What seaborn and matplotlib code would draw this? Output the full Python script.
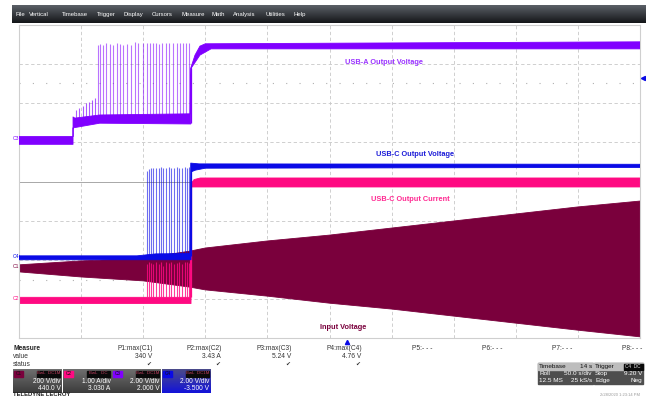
import numpy as np
import pandas as pd
import matplotlib
matplotlib.use("Agg")
import matplotlib.pyplot as plt
from matplotlib.patches import Rectangle
import seaborn as sns

# time in seconds (Roll, 50 s/div, 10 div); levels in screen divisions (8 div)

# C1 - Input Voltage (envelope of the AC waveform)
c1_t = [0, 50, 100, 137.7, 150, 200, 250, 300, 350, 400, 450, 500]
c1_top = [-2.13, -2.03, -1.96, -1.78, -1.70, -1.52, -1.37, -1.19, -1.01, -0.83, -0.65, -0.50]
c1_bot = [-2.31, -2.44, -2.54, -2.70, -2.77, -2.93, -3.11, -3.26, -3.44, -3.62, -3.80, -3.97]

# C2 - USB-C Output Current
c2_top_t = [0, 137.7, 138.5, 141, 146, 500]
c2_top_v = [-2.96, -2.96, -0.05, 0.05, 0.09, 0.09]
c2_bot_t = [0, 138.5, 138.9, 500]
c2_bot_v = [-3.12, -3.12, -0.14, -0.14]

# C3 - USB-A Output Voltage
c3_top_t = [0, 43.5, 43.5, 45, 65, 137.7, 138.3, 141.7, 145.7, 150, 500]
c3_top_v = [1.15, 1.15, 1.65, 1.62, 1.70, 1.73, 2.90, 3.23, 3.46, 3.52, 3.57]
c3_bot_t = [0, 43.5, 43.5, 65, 138.3, 138.7, 145.7, 154.6, 500]
c3_bot_v = [0.95, 0.95, 1.37, 1.49, 1.47, 2.90, 3.23, 3.39, 3.39]
c3_short_t = [45.9, 48.3, 51.5, 53.9, 56.4, 58.8, 61.2]
c3_short_top = [1.83, 1.88, 1.93, 2.01, 2.03, 2.08, 2.13]
c3_spike_t = [63.6, 65.2, 67.6, 70.0, 73.3, 75.7, 78.9, 81.3, 83.7, 86.9,
              90.2, 93.4, 95.8, 99.8, 103.1, 105.5, 107.9, 110.4, 112.8, 115.2,
              118.4, 120.8, 124.0, 127.2, 129.6, 132.1, 134.5, 136.9]
c3_spike_top = [3.49, 3.52, 3.50, 3.54, 3.52, 3.50, 3.53, 3.51, 3.49, 3.52,
                3.50, 3.56, 3.54, 3.55, 3.53, 3.55, 3.54, 3.55, 3.52, 3.54,
                3.55, 3.53, 3.54, 3.55, 3.53, 3.54, 3.55, 3.54]

# C4 - USB-C Output Voltage
c4_top_t = [0, 95, 110, 137.7, 138.3, 145, 500]
c4_top_v = [-1.90, -1.90, -1.85, -1.84, 0.47, 0.45, 0.44]
c4_bot_t = [0, 138.5, 138.9, 142, 150, 500]
c4_bot_v = [-2.00, -2.00, 0.25, 0.29, 0.34, 0.36]
c4_spike_t = [103.3, 104.9, 106.5, 108.1, 110.3, 112.5, 114.6, 116.2, 118.4,
              120.5, 122.6, 124.8, 126.9, 129.1, 131.2, 133.4, 135.5, 137.1]
c4_spike_top = [0.27, 0.32, 0.34, 0.35, 0.34, 0.35, 0.36, 0.35, 0.34,
                0.36, 0.35, 0.35, 0.36, 0.34, 0.35, 0.36, 0.35, 0.36]
c2_spike_top = [-2.10, -2.06, -2.08, -2.12, -2.06, -2.10, -2.07, -2.15, -2.06,
                -2.09, -2.06, -2.12, -2.08, -2.06, -2.10, -2.07, -2.06, -2.08]

menu_items = ["File", "Vertical", "Timebase", "Trigger", "Display", "Cursors",
              "Measure", "Math", "Analysis", "Utilities", "Help"]
meas_names = ["P1:max(C1)", "P2:max(C2)", "P3:max(C3)", "P4:max(C4)",
              "P5:- - -", "P6:- - -", "P7:- - -", "P8:- - -"]
meas_values = ["340 V", "3.43 A", "5.24 V", "4.76 V"]
ch_names = ["C1", "C2", "C3", "C4"]
ch_scale = ["200 V/div", "1.00 A/div", "2.00 V/div", "2.00 V/div"]
ch_offset = ["440.0 V", "3.030 A", "2.000 V", "-3.500 V"]

C1 = "#7a003c"
C2 = "#ff0a82"
C3 = "#8000ff"
C4 = "#0a0ae6"

sns.set_theme(style="white")
plt.rcParams["font.family"] = ["Liberation Sans", "DejaVu Sans"]

fig = plt.figure(figsize=(6.46, 3.98), dpi=100)
fig.patch.set_facecolor("white")
ax = fig.add_axes([19 / 646, 60 / 398, 621 / 646, 313 / 398])
ax.set_xlim(0, 500)
ax.set_ylim(-4, 4)
ax.set_xticks([])
ax.set_yticks([])
for s in ax.spines.values():
    s.set_color("#cfcfcf")
    s.set_linewidth(0.8)

# graticule
for gx in range(50, 500, 50):
    ax.axvline(gx, color="#c8c8c8", lw=0.6, ls=(0, (4, 3)), zorder=0)
for gy in [-3, -2, -1, 1, 2, 3]:
    ax.axhline(gy, color="#c8c8c8", lw=0.6, ls=(0, (4, 3)), zorder=0)
ax.axhline(0, color="#9a9a9a", lw=0.6, zorder=0)
for gy in [2.52, -2.52]:
    ax.axhline(gy, color="#b0b0b0", lw=0.8, ls=(0, (1, 11)), zorder=0)


def band(top_t, top_v, bot_t, bot_v, color, z):
    xs = list(top_t) + list(bot_t)[::-1]
    ys = list(top_v) + list(bot_v)[::-1]
    ax.fill(xs, ys, color=color, lw=0, zorder=z)
    edges = pd.DataFrame({"t": xs + [xs[0]], "v": ys + [ys[0]]})
    sns.lineplot(data=edges, x="t", y="v", ax=ax, color=color, lw=0.6,
                 sort=False, estimator=None, zorder=z)


# C1 input voltage
band(c1_t, c1_top, c1_t, c1_bot, C1, 1)

# C2 current
band(c2_top_t, c2_top_v, c2_bot_t, c2_bot_v, C2, 2)
ax.vlines(c4_spike_t, -2.96, c2_spike_top, color=C2, lw=0.8, alpha=0.8, zorder=2)
ax.vlines([138.4], -2.96, 0.0, color=C2, lw=0.9, zorder=2)

# C4 USB-C voltage
band(c4_top_t, c4_top_v, c4_bot_t, c4_bot_v, C4, 3)
ax.vlines(c4_spike_t, -1.9, c4_spike_top, color=C4, lw=0.8, alpha=0.6, zorder=3)
ax.vlines([138.3], -1.9, 0.45, color=C4, lw=0.9, zorder=3)

# C3 USB-A voltage
band(c3_top_t, c3_top_v, c3_bot_t, c3_bot_v, C3, 4)
ax.vlines(c3_short_t, 1.6, c3_short_top, color=C3, lw=0.8, alpha=0.65, zorder=4)
ax.vlines(c3_spike_t, 1.6, c3_spike_top, color=C3, lw=0.8, alpha=0.55, zorder=4)
ax.vlines([138.3], 1.5, 2.9, color=C3, lw=0.9, zorder=4)

lab = dict(fontsize=5.3, fontweight="bold", ha="center", va="center", zorder=6)
ax.text(293.9, 3.05, "USB-A Output Voltage", color="#9a33ff", **lab)
ax.text(318.9, 0.70, "USB-C Output Voltage", color="#1c1cd8", **lab)
ax.text(314.8, -0.45, "USB-C Output Current", color="#ff2a92", **lab)
ax.text(260.9, -3.72, "Input Voltage", color=C1, **lab)
ax.set_xlabel("")
ax.set_ylabel("")

# ---- instrument chrome, in pixel coordinates ----
ov = fig.add_axes([0, 0, 1, 1], zorder=10)
ov.set_xlim(0, 646)
ov.set_ylim(398, 0)
ov.axis("off")
ov.patch.set_alpha(0)

grad = np.linspace(0, 1, 20).reshape(-1, 1)
ov.imshow(grad, extent=[12, 646, 23, 5], cmap=matplotlib.colors.LinearSegmentedColormap.from_list(
    "bar", ["#5a5f66", "#15171a"]), aspect="auto", zorder=1)
menu_x = [15, 29, 62, 97, 123, 152, 181, 212, 233, 266, 293]
for mx, name in zip(menu_x, menu_items):
    ov.text(mx, 14.5, name, color="white", fontsize=4.3, va="center", ha="left", zorder=2)

# trace labels on left edge and trigger marker
small = dict(fontsize=3.6, va="center", ha="right", zorder=3)
ov.text(19, 138, "C3", color=C3, **small)
ov.text(19, 257, "C4", color=C4, **small)
ov.text(19, 266, "C1", color=C1, **small)
ov.text(19, 299, "C2", color=C2, **small)
ov.plot([643], [78], marker="<", color=C4, ms=3, zorder=3)

# measure table
ov.text(13, 349, "Measure", fontsize=4.8, fontweight="bold", color="#222", va="center")
ov.text(13, 357, "value", fontsize=4.8, color="#333", va="center")
ov.text(13, 364.5, "status", fontsize=4.8, color="#333", va="center")
meas_right = [153, 222, 292, 362, 433, 502, 572, 642]
for i, (xr, name) in enumerate(zip(meas_right, meas_names)):
    ov.text(xr, 349, name, fontsize=4.8, color="#333", ha="right", va="center")
    if i < 4:
        ov.text(xr - 1, 357, meas_values[i], fontsize=4.8, color="#333", ha="right", va="center")
        ov.text(xr - 4, 364.5, "\u2714", fontsize=4.2, color="#333", ha="center", va="center",
                family=["DejaVu Sans"])
ov.plot([347], [342], marker="^", color=C4, ms=3, zorder=3)

# channel descriptor boxes
box_x = [13, 63, 112, 162]
ch_colors = [C1, C2, C3, C4]
box_cmap = matplotlib.colors.LinearSegmentedColormap.from_list("box", ["#6e6e6e", "#3c3c3c"])
sel_cmap = matplotlib.colors.LinearSegmentedColormap.from_list("sel", ["#4a4a8a", "#1414d8"])
for i, bx in enumerate(box_x):
    cmap = sel_cmap if i == 3 else box_cmap
    ov.imshow(grad, extent=[bx, bx + 48.5, 393, 369], cmap=cmap, aspect="auto", zorder=1)
    ov.add_patch(Rectangle((bx + 1, 370.5), 9, 6, color=ch_colors[i], zorder=2))
    ov.text(bx + 5.5, 373.5, ch_names[i], fontsize=3.4, color="#111", ha="center", va="center", zorder=3)
    ov.add_patch(Rectangle((bx + 24, 370.5), 23, 6, color="#0a0a0a", zorder=2))
    ov.text(bx + 35.5, 373.5, "BwL  DC1M" if i != 1 else "BwL   DC", fontsize=3.2,
            color="#c04060", ha="center", va="center", zorder=3)
    ov.text(bx + 47.5, 381.5, ch_scale[i], fontsize=4.8, color="white", ha="right", va="center", zorder=3)
    ov.text(bx + 47.5, 389, ch_offset[i], fontsize=4.8, color="white", ha="right", va="center", zorder=3)

# timebase and trigger boxes
ov.add_patch(Rectangle((538, 363), 55, 21, color="#4e4e4e", zorder=1))
ov.add_patch(Rectangle((538, 363), 55, 7, color="#bdbdbd", zorder=2))
ov.add_patch(Rectangle((594, 363), 49, 21, color="#4e4e4e", zorder=1))
ov.add_patch(Rectangle((594, 363), 49, 7, color="#bdbdbd", zorder=2))
ov.add_patch(Rectangle((624, 363.5), 18.5, 6, color="#0a0a0a", zorder=3))
tb = dict(fontsize=4.6, va="center", zorder=4)
ov.text(539, 366.5, "Timebase", color="#111", ha="left", **tb)
ov.text(592, 366.5, "14 s", color="#111", ha="right", **tb)
ov.text(539, 373.5, "Roll", color="white", ha="left", **tb)
ov.text(592, 373.5, "50.0 s/div", color="white", ha="right", **tb)
ov.text(539, 380.5, "12.5 MS", color="white", ha="left", **tb)
ov.text(592, 380.5, "25 kS/s", color="white", ha="right", **tb)
ov.text(595, 366.5, "Trigger", color="#111", ha="left", **tb)
ov.text(633, 366.5, "C4  DC", color="#dddddd", ha="center", fontsize=3.4, va="center", zorder=4)
ov.text(595, 373.5, "Stop", color="white", ha="left", **tb)
ov.text(642, 373.5, "9.20 V", color="white", ha="right", **tb)
ov.text(595, 380.5, "Edge", color="white", ha="left", **tb)
ov.text(642, 380.5, "Neg", color="white", ha="right", **tb)

ov.text(13, 397.5, "TELEDYNE LECROY", fontsize=4.2, fontweight="bold", color="#222", va="bottom")
ov.text(640, 394.5, "2/28/2020 1:23:14 PM", fontsize=3, color="#999", ha="right", va="center")

fig.savefig("out.png", dpi=100, facecolor="white")
